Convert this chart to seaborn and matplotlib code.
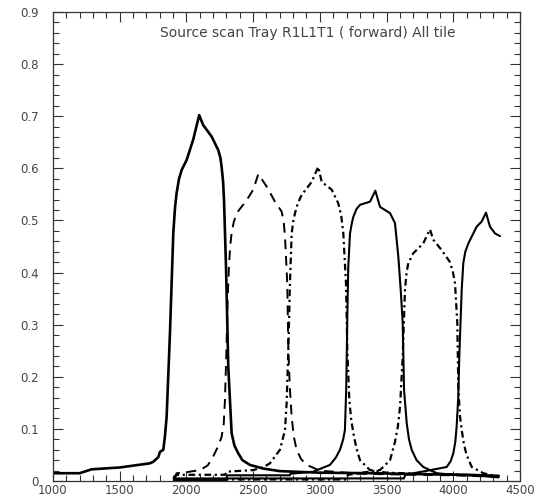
import numpy as np
import pandas as pd
import matplotlib
matplotlib.use("Agg")
import matplotlib.pyplot as plt
from matplotlib.ticker import MultipleLocator
import seaborn as sns

# Source scan response of each tile in tray R1L1T1 (forward scan)
tile1_x = [1000, 1200, 1290, 1500, 1727, 1752, 1790, 1802, 1827, 1839, 1852, 1877, 1902,
           1915, 1927, 1945, 1965, 2002, 2051, 2096, 2126, 2189, 2239, 2255, 2264, 2275,
           2282, 2297, 2314, 2339, 2360, 2389, 2420, 2476, 2574, 2701, 3000, 3400, 3800,
           4100, 4340]
tile1_y = [0.015, 0.015, 0.0225, 0.026, 0.034, 0.037, 0.046, 0.056, 0.060, 0.085, 0.123,
           0.284, 0.476, 0.525, 0.553, 0.580, 0.597, 0.616, 0.655, 0.702, 0.683, 0.661,
           0.635, 0.620, 0.603, 0.575, 0.539, 0.411, 0.219, 0.092, 0.068, 0.053, 0.040,
           0.031, 0.024, 0.019, 0.016, 0.015, 0.013, 0.012, 0.010]

tile2_x = [1905, 1927, 2000, 2102, 2160, 2201, 2240, 2264, 2280, 2289, 2300, 2309, 2319,
           2328, 2339, 2355, 2377, 2452, 2501, 2539, 2602, 2664, 2714, 2730, 2739, 2756,
           2764, 2775, 2789, 2805, 2826, 2860, 2901, 3000, 3300, 3700, 4000, 4340]
tile2_y = [0.004, 0.015, 0.017, 0.021, 0.030, 0.047, 0.068, 0.085, 0.110, 0.155, 0.250,
           0.347, 0.411, 0.450, 0.476, 0.497, 0.514, 0.539, 0.559, 0.589, 0.565, 0.536,
           0.517, 0.495, 0.469, 0.379, 0.251, 0.180, 0.123, 0.085, 0.060, 0.042, 0.031,
           0.020, 0.014, 0.012, 0.011, 0.008]

tile3_x = [1905, 1930, 2290, 2302, 2501, 2580, 2626, 2701, 2739, 2751, 2764, 2776, 2789,
           2800, 2814, 2835, 2864, 2939, 2988, 3014, 3089, 3138, 3160, 3176, 3196, 3206,
           3221, 3235, 3251, 3275, 3301, 3376, 3500, 3900, 4200, 4340]
tile3_y = [0.006, 0.012, 0.012, 0.018, 0.021, 0.027, 0.034, 0.060, 0.098, 0.149, 0.251,
           0.379, 0.475, 0.497, 0.514, 0.533, 0.549, 0.574, 0.603, 0.574, 0.559, 0.533,
           0.510, 0.475, 0.379, 0.251, 0.155, 0.118, 0.092, 0.062, 0.040, 0.021, 0.016,
           0.013, 0.011, 0.009]

tile4_x = [1905, 2300, 2305, 2776, 2780, 2951, 3076, 3120, 3151, 3175, 3188, 3198, 3206,
           3213, 3226, 3240, 3251, 3275, 3301, 3376, 3416, 3451, 3526, 3563, 3588, 3606,
           3621, 3631, 3651, 3668, 3688, 3725, 3775, 3876, 4000, 4200, 4340]
tile4_y = [0.002, 0.002, 0.011, 0.011, 0.014, 0.018, 0.031, 0.045, 0.060, 0.080, 0.098,
           0.180, 0.315, 0.411, 0.475, 0.495, 0.507, 0.522, 0.530, 0.536, 0.557, 0.526,
           0.514, 0.495, 0.431, 0.367, 0.303, 0.175, 0.111, 0.080, 0.060, 0.040, 0.027,
           0.015, 0.012, 0.010, 0.007]

tile5_x = [1905, 3200, 3210, 3451, 3526, 3563, 3585, 3601, 3621, 3638, 3650, 3663, 3700,
           3775, 3825, 3850, 3913, 3975, 3998, 4013, 4030, 4038, 4050, 4063, 4080, 4100,
           4138, 4225, 4340]
tile5_y = [0.003, 0.003, 0.012, 0.021, 0.040, 0.075, 0.105, 0.143, 0.239, 0.367, 0.400,
           0.418, 0.437, 0.456, 0.483, 0.463, 0.443, 0.420, 0.400, 0.379, 0.303, 0.175,
           0.125, 0.098, 0.070, 0.050, 0.027, 0.015, 0.008]

tile6_x = [1905, 3630, 3640, 3850, 3951, 3980, 4000, 4015, 4025, 4037, 4045, 4063, 4075,
           4090, 4113, 4175, 4213, 4245, 4275, 4313, 4350]
tile6_y = [0.005, 0.005, 0.012, 0.022, 0.027, 0.038, 0.053, 0.075, 0.104, 0.160, 0.239,
           0.367, 0.418, 0.440, 0.456, 0.488, 0.498, 0.515, 0.488, 0.475, 0.470]

title_text = "Source scan Tray R1L1T1 ( forward) All tile"

sns.set_theme(style="white")
plt.rcParams["font.family"] = ["DejaVu Sans"]

fig = plt.figure(figsize=(5.40, 4.99), dpi=100)
ax = fig.add_axes([0.098, 0.036, 0.865, 0.940])

dashdot = (0, (3.0, 1.6, 1.0, 1.6))
curves = [
    (tile1_x, tile1_y, "-", 1.9),
    (tile2_x, tile2_y, (0, (5, 3.5)), 1.4),
    (tile3_x, tile3_y, dashdot, 1.6),
    (tile4_x, tile4_y, "-", 1.5),
    (tile5_x, tile5_y, dashdot, 1.6),
    (tile6_x, tile6_y, "-", 1.5),
]
for xs, ys, ls, lw in curves:
    df = pd.DataFrame({"x": xs, "y": ys})
    sns.lineplot(data=df, x="x", y="y", ax=ax, color="black", linestyle=ls,
                 linewidth=lw, sort=False, estimator=None)

ax.set_xlim(1000, 4500)
ax.set_ylim(0, 0.9)
ax.set_xlabel("")
ax.set_ylabel("")
ax.xaxis.set_minor_locator(MultipleLocator(100))
ax.yaxis.set_minor_locator(MultipleLocator(0.02))

ax.tick_params(which="both", direction="in", top=True, right=True, bottom=True,
               left=True, color="#333333", width=0.8, labelsize=8.5,
               labelcolor="#444444")
ax.tick_params(which="major", length=7)
ax.tick_params(which="minor", length=4)

xt = np.arange(1000, 4501, 500)
ax.set_xticks(xt)
ax.set_xticklabels([str(v) for v in xt])
yt = np.round(np.arange(0, 0.91, 0.1), 1)
ax.set_yticks(yt)
ax.set_yticklabels(["0"] + [f"{v:.1f}" for v in yt[1:]])
ax.tick_params(axis="x", pad=2)
ax.tick_params(axis="y", pad=10)

for s in ax.spines.values():
    s.set_color("#333333")
    s.set_linewidth(0.9)

ax.text(0.23, 0.97, title_text, transform=ax.transAxes, fontsize=10,
        color="#444444", ha="left", va="top")

fig.savefig("out.png", dpi=100, facecolor="white")
